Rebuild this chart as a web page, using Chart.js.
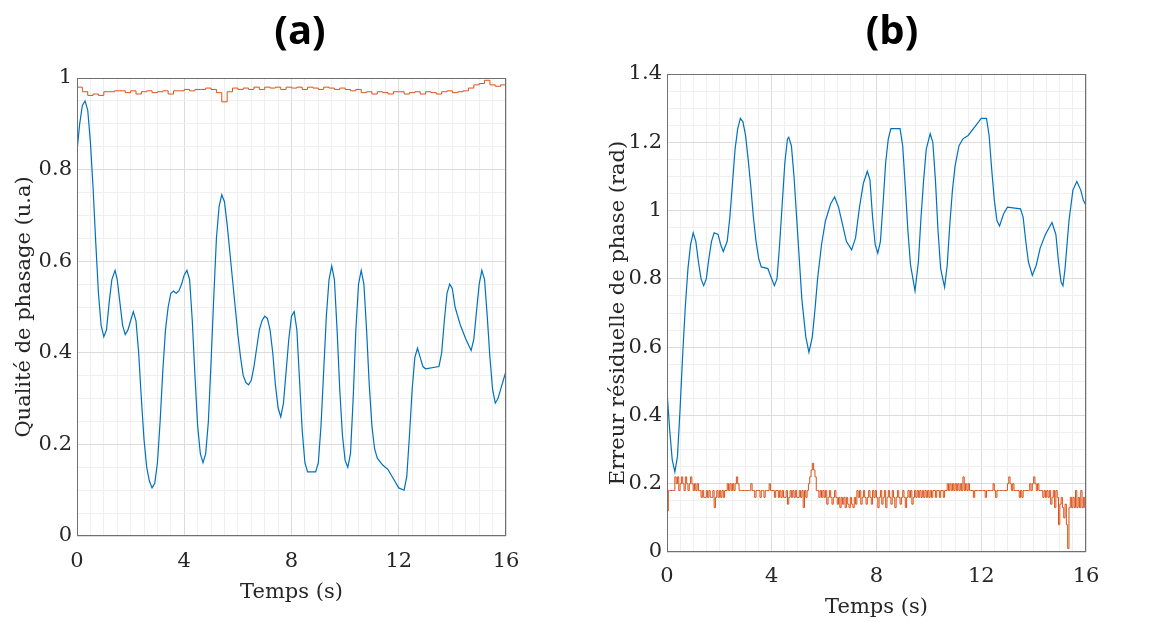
<!DOCTYPE html>
<html>
<head>
<meta charset="utf-8">
<script src="https://cdn.jsdelivr.net/npm/chart.js@4.4.0/dist/chart.umd.min.js"></script>
<style>
  html, body { margin: 0; padding: 0; background: #fff; overflow: hidden; }
  #wrap { position: relative; width: 1153px; height: 622px; }
  .panel { position: absolute; top: 0; height: 622px; }
  #panelA { left: 0; width: 576px; }
  #panelB { left: 580px; width: 573px; }
</style>
</head>
<body>
<div id="wrap">
  <div class="panel" id="panelA"><canvas id="chartA"></canvas></div>
  <div class="panel" id="panelB"><canvas id="chartB"></canvas></div>
</div>
<script>
// Panel (a): phasing quality, blue curve (time in s, value in a.u.)
const timeQualityBlue = [
  0, 0.1, 0.2, 0.3, 0.4, 0.5, 0.6, 0.7, 0.8, 0.9,
  1.0, 1.1, 1.2, 1.3, 1.42, 1.5, 1.6, 1.7, 1.8, 1.9,
  2.0, 2.1, 2.2, 2.3, 2.4, 2.5, 2.6, 2.7, 2.8, 2.9,
  3.0, 3.1, 3.2, 3.3, 3.4, 3.5, 3.6, 3.7, 3.8, 3.9,
  4.0, 4.1, 4.2, 4.3, 4.4, 4.5, 4.6, 4.7, 4.8, 4.9,
  5.0, 5.1, 5.2, 5.3, 5.4, 5.5, 5.6, 5.7, 5.8, 5.9,
  6.0, 6.1, 6.2, 6.3, 6.4, 6.5, 6.6, 6.7, 6.8, 6.9,
  7.0, 7.1, 7.2, 7.3, 7.4, 7.5, 7.6, 7.7, 7.8, 7.9,
  8.0, 8.1, 8.2, 8.3, 8.4, 8.5, 8.6, 8.9, 9.0, 9.1,
  9.2, 9.3, 9.4, 9.5, 9.6, 9.7, 9.8, 9.9, 10.0, 10.1,
  10.2, 10.3, 10.4, 10.5, 10.6, 10.7, 10.8, 10.9, 11.0, 11.1,
  11.2, 11.4, 11.6, 11.8, 12.0, 12.2, 12.3, 12.4, 12.5, 12.6,
  12.7, 12.8, 12.9, 13.0, 13.5, 13.6, 13.7, 13.8, 13.9, 14.0,
  14.1, 14.3, 14.5, 14.7, 14.8, 14.9, 15.0, 15.1, 15.2, 15.3,
  15.4, 15.5, 15.6, 15.7, 15.8, 15.9, 16.0
];
const qualityBlue = [
  0.84, 0.90, 0.94, 0.95, 0.93, 0.86, 0.76, 0.64, 0.53, 0.46,
  0.435, 0.45, 0.51, 0.56, 0.58, 0.56, 0.51, 0.46, 0.44, 0.45,
  0.47, 0.49, 0.47, 0.40, 0.30, 0.21, 0.15, 0.12, 0.105, 0.115,
  0.16, 0.25, 0.36, 0.45, 0.50, 0.53, 0.535, 0.53, 0.535, 0.55,
  0.57, 0.58, 0.56, 0.47, 0.35, 0.24, 0.18, 0.16, 0.18, 0.25,
  0.38, 0.52, 0.65, 0.72, 0.745, 0.73, 0.68, 0.62, 0.56, 0.50,
  0.44, 0.39, 0.35, 0.335, 0.33, 0.34, 0.37, 0.41, 0.45, 0.47,
  0.48, 0.475, 0.45, 0.40, 0.33, 0.28, 0.26, 0.29, 0.36, 0.43,
  0.48, 0.49, 0.45, 0.34, 0.23, 0.16, 0.14, 0.14, 0.16, 0.24,
  0.36, 0.48, 0.56, 0.59, 0.56, 0.45, 0.32, 0.22, 0.165, 0.15,
  0.18, 0.30, 0.45, 0.55, 0.58, 0.55, 0.45, 0.33, 0.24, 0.19,
  0.17, 0.155, 0.145, 0.125, 0.105, 0.10, 0.13, 0.22, 0.32, 0.39,
  0.41, 0.39, 0.37, 0.365, 0.37, 0.40, 0.47, 0.53, 0.55, 0.54,
  0.50, 0.46, 0.43, 0.405, 0.43, 0.49, 0.55, 0.58, 0.56, 0.48,
  0.39, 0.32, 0.29, 0.30, 0.32, 0.34, 0.36
];
// Panel (a): orange curve, one sample every 0.2 s from 0 to 16 s
const qualityOrangeStep = 0.2;
const qualityOrange = [
  0.98, 0.97, 0.962, 0.965, 0.962, 0.97, 0.97, 0.972, 0.972, 0.968,
  0.972, 0.965, 0.97, 0.972, 0.968, 0.97, 0.972, 0.965, 0.972, 0.972,
  0.975, 0.972, 0.975, 0.975, 0.978, 0.975, 0.968, 0.948, 0.97, 0.978,
  0.975, 0.978, 0.975, 0.98, 0.975, 0.98, 0.978, 0.98, 0.975, 0.98,
  0.978, 0.98, 0.975, 0.98, 0.978, 0.975, 0.98, 0.978, 0.975, 0.978,
  0.975, 0.972, 0.975, 0.968, 0.97, 0.965, 0.97, 0.968, 0.965, 0.97,
  0.97, 0.965, 0.968, 0.97, 0.965, 0.97, 0.968, 0.965, 0.97, 0.972,
  0.968, 0.97, 0.972, 0.978, 0.985, 0.988, 0.995, 0.985, 0.982, 0.985,
  0.982
];

// Panel (b): residual phase error, blue curve (time in s, value in rad)
const timeErrorBlue = [
  0, 0.1, 0.2, 0.3, 0.4, 0.5, 0.6, 0.7, 0.8, 0.9,
  1.0, 1.1, 1.2, 1.3, 1.4, 1.5, 1.6, 1.7, 1.8, 1.95,
  2.05, 2.15, 2.3, 2.4, 2.5, 2.6, 2.7, 2.8, 2.9, 3.0,
  3.1, 3.2, 3.3, 3.4, 3.5, 3.6, 3.85, 3.95, 4.1, 4.2,
  4.3, 4.4, 4.5, 4.6, 4.65, 4.75, 4.85, 4.95, 5.05, 5.15,
  5.3, 5.42, 5.55, 5.65, 5.75, 5.9, 6.05, 6.25, 6.4, 6.55,
  6.7, 6.85, 7.05, 7.2, 7.35, 7.5, 7.65, 7.75, 7.85, 7.95,
  8.05, 8.15, 8.25, 8.35, 8.45, 8.55, 8.9, 9.0, 9.1, 9.2,
  9.3, 9.47, 9.6, 9.7, 9.8, 9.9, 10.05, 10.15, 10.25, 10.35,
  10.45, 10.6, 10.7, 10.8, 10.9, 11.0, 11.15, 11.3, 11.5, 11.7,
  11.9, 12.0, 12.2, 12.3, 12.4, 12.5, 12.6, 12.7, 12.85, 13.0,
  13.5, 13.6, 13.7, 13.8, 13.95, 14.1, 14.25, 14.45, 14.7, 14.85,
  14.95, 15.05, 15.12, 15.2, 15.35, 15.5, 15.65, 15.8, 15.9, 16.0
];
const errorBlue = [
  0.47, 0.36, 0.27, 0.235, 0.28, 0.42, 0.58, 0.72, 0.83, 0.90,
  0.935, 0.91, 0.85, 0.80, 0.78, 0.80, 0.86, 0.91, 0.935, 0.93,
  0.90, 0.88, 0.91, 0.98, 1.08, 1.18, 1.24, 1.27, 1.26, 1.22,
  1.15, 1.07, 0.98, 0.91, 0.86, 0.835, 0.83, 0.81, 0.78, 0.80,
  0.90, 1.02, 1.14, 1.21, 1.215, 1.19, 1.10, 0.98, 0.86, 0.74,
  0.63, 0.585, 0.63, 0.71, 0.80, 0.90, 0.97, 1.02, 1.04, 1.01,
  0.96, 0.91, 0.885, 0.92, 1.01, 1.08, 1.115, 1.09, 0.98, 0.90,
  0.875, 0.91, 1.02, 1.14, 1.21, 1.24, 1.24, 1.19, 1.07, 0.94,
  0.84, 0.765, 0.85, 0.98, 1.09, 1.18, 1.225, 1.20, 1.09, 0.94,
  0.83, 0.775, 0.84, 0.96, 1.06, 1.13, 1.19, 1.21, 1.22, 1.24,
  1.26, 1.27, 1.27, 1.22, 1.12, 1.03, 0.97, 0.955, 0.99, 1.01,
  1.005, 0.98, 0.91, 0.85, 0.81, 0.84, 0.89, 0.93, 0.965, 0.93,
  0.85, 0.79, 0.78, 0.83, 0.97, 1.06, 1.085, 1.06, 1.03, 1.015
];
// Panel (b): orange curve, one sample every 0.05 s from 0 to 16 s (one row per second)
const errorOrangeStep = 0.05;
const errorOrange = [
  0.12, 0.18, 0.18, 0.18, 0.18, 0.18, 0.22, 0.20, 0.22, 0.18, 0.20, 0.22, 0.20, 0.18, 0.22, 0.20, 0.18, 0.20, 0.22, 0.20,
  0.18, 0.20, 0.18, 0.20, 0.18, 0.18, 0.16, 0.18, 0.16, 0.16, 0.18, 0.16, 0.18, 0.16, 0.16, 0.18, 0.13, 0.16, 0.18, 0.16,
  0.18, 0.16, 0.18, 0.16, 0.18, 0.18, 0.20, 0.18, 0.20, 0.18, 0.20, 0.18, 0.20, 0.22, 0.20, 0.18, 0.18, 0.18, 0.18, 0.18,
  0.18, 0.18, 0.18, 0.18, 0.20, 0.18, 0.18, 0.16, 0.18, 0.18, 0.18, 0.16, 0.18, 0.18, 0.16, 0.18, 0.18, 0.18, 0.20, 0.18,
  0.18, 0.18, 0.16, 0.18, 0.18, 0.16, 0.18, 0.16, 0.18, 0.16, 0.16, 0.18, 0.14, 0.16, 0.18, 0.16, 0.18, 0.16, 0.18, 0.16,
  0.16, 0.18, 0.16, 0.18, 0.13, 0.18, 0.16, 0.18, 0.20, 0.22, 0.24, 0.26, 0.24, 0.22, 0.18, 0.18, 0.16, 0.18, 0.16, 0.18,
  0.16, 0.18, 0.14, 0.16, 0.18, 0.16, 0.14, 0.16, 0.18, 0.16, 0.14, 0.16, 0.13, 0.16, 0.14, 0.16, 0.13, 0.16, 0.14, 0.13,
  0.16, 0.14, 0.13, 0.16, 0.14, 0.18, 0.16, 0.18, 0.14, 0.16, 0.18, 0.16, 0.14, 0.16, 0.18, 0.16, 0.14, 0.18, 0.16, 0.18,
  0.16, 0.13, 0.16, 0.18, 0.14, 0.16, 0.18, 0.13, 0.16, 0.18, 0.16, 0.14, 0.18, 0.16, 0.13, 0.16, 0.18, 0.16, 0.14, 0.16,
  0.18, 0.16, 0.13, 0.16, 0.18, 0.16, 0.18, 0.14, 0.16, 0.18, 0.16, 0.18, 0.16, 0.18, 0.16, 0.18, 0.16, 0.18, 0.16, 0.18,
  0.16, 0.18, 0.16, 0.18, 0.18, 0.16, 0.18, 0.18, 0.16, 0.18, 0.18, 0.16, 0.18, 0.18, 0.20, 0.18, 0.20, 0.18, 0.20, 0.18,
  0.20, 0.18, 0.20, 0.18, 0.20, 0.18, 0.22, 0.18, 0.20, 0.18, 0.20, 0.18, 0.18, 0.18, 0.16, 0.18, 0.18, 0.18, 0.18, 0.18,
  0.18, 0.18, 0.18, 0.16, 0.18, 0.18, 0.18, 0.18, 0.18, 0.20, 0.18, 0.16, 0.18, 0.18, 0.18, 0.18, 0.18, 0.18, 0.18, 0.18,
  0.20, 0.22, 0.20, 0.18, 0.20, 0.18, 0.18, 0.18, 0.18, 0.16, 0.18, 0.16, 0.18, 0.18, 0.18, 0.18, 0.18, 0.20, 0.18, 0.20,
  0.22, 0.20, 0.18, 0.20, 0.18, 0.18, 0.18, 0.16, 0.18, 0.16, 0.18, 0.16, 0.18, 0.14, 0.16, 0.18, 0.13, 0.18, 0.16, 0.08,
  0.14, 0.16, 0.13, 0.10, 0.14, 0.08, 0.01, 0.13, 0.16, 0.13, 0.16, 0.13, 0.18, 0.13, 0.16, 0.13, 0.18, 0.13, 0.16, 0.13,
  0.13
];

const BLUE = '#0072BD';
const ORANGE = '#D95319';
const TEXT = '#262626';
const SERIF = '"DejaVu Serif", "Liberation Serif", serif';

function pairs(times, values) {
  return values.map((v, i) => ({ x: times[i], y: v }));
}

function sampled(step, values) {
  return values.map((v, i) => ({ x: Math.round(i * step * 100) / 100, y: v }));
}

function isMajor(value, major) {
  const r = value / major;
  return Math.abs(r - Math.round(r)) < 1e-6;
}

// Box round the plot area plus the bold panel letter above it
const framePlugin = {
  id: 'frame',
  afterDraw(chart, args, opts) {
    const { ctx, chartArea: a } = chart;
    ctx.save();
    ctx.strokeStyle = '#707070';
    ctx.lineWidth = 1;
    ctx.strokeRect(Math.round(a.left) + 0.5, Math.round(a.top) + 0.5,
      Math.round(a.right - a.left) - 1, Math.round(a.bottom - a.top) - 1);
    ctx.font = 'bold 40px "Open Sans", sans-serif';
    ctx.fillStyle = '#000';
    ctx.textAlign = 'center';
    ctx.textBaseline = 'middle';
    ctx.fillText(opts.text, opts.x, opts.y);
    ctx.restore();
  }
};

function buildConfig(o) {
  return {
    type: 'line',
    data: {
      datasets: [
        {
          data: o.blue,
          borderColor: BLUE,
          borderWidth: 1.2,
          pointRadius: 0,
          tension: 0
        },
        {
          data: o.orange,
          borderColor: ORANGE,
          borderWidth: 1,
          pointRadius: 0,
          stepped: true
        }
      ]
    },
    options: {
      responsive: true,
      maintainAspectRatio: false,
      animation: false,
      devicePixelRatio: 1,
      layout: { padding: o.padding },
      plugins: {
        legend: { display: false },
        tooltip: { enabled: false },
        frame: o.title
      },
      scales: {
        x: {
          type: 'linear',
          min: 0,
          max: 16,
          afterFit: (s) => { s.height = o.xHeight; },
          border: { display: false },
          grid: {
            drawTicks: false,
            color: (c) => isMajor(c.tick.value, 4) ? '#dcdcdc' : '#efefef'
          },
          ticks: {
            stepSize: 0.5,
            autoSkip: false,
            maxRotation: 0,
            padding: o.xTickPad,
            color: TEXT,
            font: { family: SERIF, size: 21 },
            callback: (v) => isMajor(v, 4) ? String(Math.round(v)) : ''
          },
          title: {
            display: true,
            text: 'Temps (s)',
            color: TEXT,
            padding: 0,
            font: { family: SERIF, size: 21 }
          }
        },
        y: {
          type: 'linear',
          min: 0,
          max: o.yMax,
          afterFit: (s) => { s.width = o.yWidth; },
          border: { display: false },
          grid: {
            drawTicks: false,
            color: (c) => isMajor(c.tick.value, 0.2) ? '#dcdcdc' : '#efefef'
          },
          ticks: {
            stepSize: 0.05,
            autoSkip: false,
            padding: 5,
            color: TEXT,
            font: { family: SERIF, size: 21 },
            callback: (v) => isMajor(v, 0.2) ? String(Number(v.toFixed(1))) : ''
          },
          title: {
            display: true,
            text: o.yTitle,
            color: TEXT,
            padding: 0,
            font: { family: SERIF, size: 21 }
          }
        }
      }
    },
    plugins: [framePlugin]
  };
}

new Chart(document.getElementById('chartA'), buildConfig({
  blue: pairs(timeQualityBlue, qualityBlue),
  orange: sampled(qualityOrangeStep, qualityOrange),
  yMax: 1,
  yTitle: 'Qualité de phasage (u.a)',
  padding: { top: 78, right: 70, bottom: 17, left: 12 },
  xHeight: 69,
  xTickPad: 13,
  yWidth: 65,
  title: { text: '(a)', x: 300, y: 33 }
}));

new Chart(document.getElementById('chartB'), buildConfig({
  blue: pairs(timeErrorBlue, errorBlue),
  orange: sampled(errorOrangeStep, errorOrange),
  yMax: 1.4,
  yTitle: 'Erreur résiduelle de phase (rad)',
  padding: { top: 74, right: 67, bottom: 2, left: 26 },
  xHeight: 68,
  xTickPad: 12,
  yWidth: 61,
  title: { text: '(b)', x: 312, y: 33 }
}));
</script>
</body>
</html>
